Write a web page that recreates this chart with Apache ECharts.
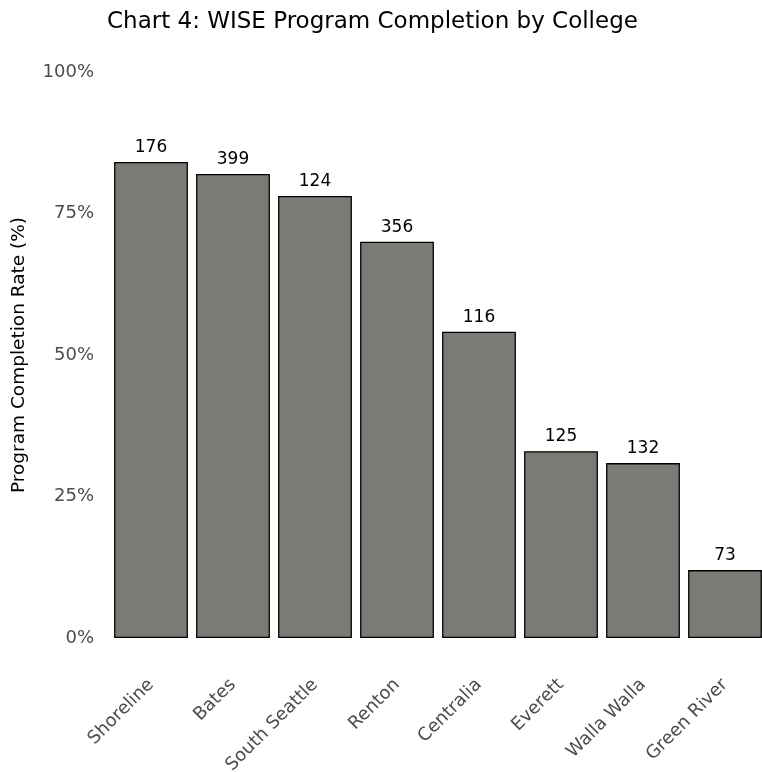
<!DOCTYPE html>
<html>
<head>
<meta charset="utf-8">
<script src="https://cdn.jsdelivr.net/npm/echarts@6/dist/echarts.min.js"></script>
<style>
  html, body { margin: 0; padding: 0; background: #fff; }
  #chart { width: 762px; height: 772px; }
</style>
</head>
<body>
<div id="chart"></div>
<script>
// Colleges, completion rates (%) and number of participants per college
const colleges = ['Shoreline', 'Bates', 'South Seattle', 'Renton', 'Centralia', 'Everett', 'Walla Walla', 'Green River'];
const completionRates = [84.1, 82.0, 78.1, 70.0, 54.1, 33.0, 30.9, 12.0];
const participants = [176, 399, 124, 356, 116, 125, 132, 73];
const yTicks = [0, 25, 50, 75, 100];

const fontFamily = 'DejaVu Sans, sans-serif';
const chart = echarts.init(document.getElementById('chart'), null, { renderer: 'canvas' });

chart.setOption({
  animation: false,
  backgroundColor: '#ffffff',
  title: {
    text: 'Chart 4: WISE Program Completion by College',
    left: 102,
    top: 6,
    textStyle: { fontFamily, fontSize: 23, fontWeight: 'normal', color: '#000000' }
  },
  grid: {
    left: 110, top: 72, width: 656, height: 566,
    containLabel: false,
    outerBoundsMode: 'none'
  },
  xAxis: {
    type: 'category',
    data: colleges,
    axisLine: { show: false },
    axisTick: { show: false },
    axisLabel: {
      rotate: 45,
      margin: 44,
      interval: 0,
      fontFamily,
      fontSize: 18,
      color: '#4d4d4d'
    }
  },
  yAxis: {
    type: 'value',
    min: yTicks[0],
    max: yTicks[yTicks.length - 1],
    interval: 25,
    name: 'Program Completion Rate (%)',
    nameLocation: 'middle',
    nameGap: 81,
    nameRotate: 90,
    nameTextStyle: { fontFamily, fontSize: 18.5, color: '#000000' },
    axisLine: { show: false },
    axisTick: { show: false },
    splitLine: { show: false },
    axisLabel: {
      formatter: '{value}%',
      margin: 16,
      fontFamily,
      fontSize: 18,
      color: '#4d4d4d'
    }
  },
  series: [{
    type: 'bar',
    data: completionRates,
    barCategoryGap: '10%',
    itemStyle: { color: '#787c74', borderColor: '#000000', borderWidth: 1.3 },
    label: {
      show: true,
      position: 'top',
      distance: 6,
      fontFamily,
      fontSize: 17,
      color: '#000000',
      formatter: p => String(participants[p.dataIndex])
    }
  }]
});
</script>
</body>
</html>
